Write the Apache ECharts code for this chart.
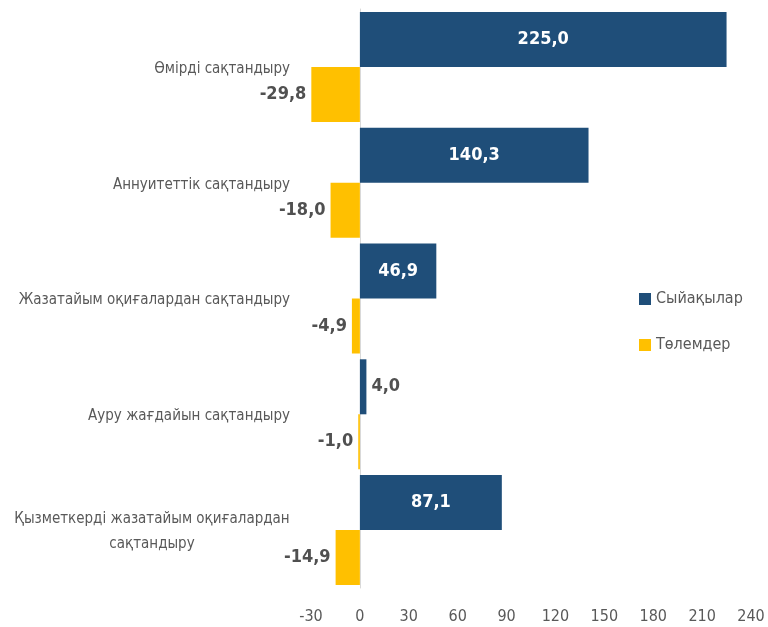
<!DOCTYPE html>
<html>
<head>
<meta charset="utf-8">
<script src="https://cdn.jsdelivr.net/npm/echarts@6/dist/echarts.min.js"></script>
<style>
  html, body { margin: 0; padding: 0; background: #fff; }
  #chart { width: 768px; height: 627px; }
</style>
</head>
<body>
<div id="chart"></div>
<script>
const categories = [
  'Өмірді сақтандыру',
  'Аннуитеттік сақтандыру',
  'Жазатайым оқиғалардан сақтандыру',
  'Ауру жағдайын сақтандыру',
  'Қызметкерді жазатайым оқиғалардан\nсақтандыру'
]
const rewards = [225.0, 140.3, 46.9, 4.0, 87.1]      // Сыйақылар
const payments = [-29.8, -18.0, -4.9, -1.0, -14.9]   // Төлемдер
const seriesNames = ['Сыйақылар', 'Төлемдер']

const font = '"Liberation Sans Narrow", "DejaVu Sans Condensed", "Roboto", sans-serif'
const catSize = 15
const fmt = v => v.toFixed(1).replace('.', ',')

// ширина самой длинной строки, чтобы центрировать перенос
const ctx = document.createElement('canvas').getContext('2d')
ctx.font = catSize + 'px ' + font
const wrapWidth = Math.ceil(Math.max(...categories.filter(c => c.includes('\n'))
  .flatMap(c => c.split('\n')).map(s => ctx.measureText(s).width)))

const chart = echarts.init(document.getElementById('chart'))

chart.setOption({
  animation: false,
  textStyle: { fontFamily: font },
  legend: {
    data: seriesNames,
    orient: 'vertical',
    left: 634,
    top: 286,
    itemWidth: 12,
    itemHeight: 12,
    itemGap: 30,
    icon: 'rect',
    itemStyle: { borderWidth: 0 },
    textStyle: { fontFamily: font, fontSize: 16, color: '#595959' }
  },
  grid: { left: 311, right: 17, top: 9, bottom: 39, outerBoundsMode: 'none', containLabel: false },
  xAxis: {
    type: 'value',
    min: -30,
    max: 240,
    interval: 30,
    splitLine: { show: false },
    axisLine: { show: false },
    axisTick: { show: false },
    axisLabel: { fontFamily: font, fontSize: 16, color: '#595959', margin: 21 }
  },
  yAxis: {
    type: 'category',
    inverse: true,
    data: categories,
    axisLine: { show: true, onZero: true, lineStyle: { color: '#d9d9d9', width: 1 } },
    axisTick: { show: false },
    axisLabel: {
      fontFamily: font,
      fontSize: catSize,
      color: '#595959',
      margin: 21,
      lineHeight: 20,
      padding: [4, 0, 0, 0],
      formatter: v => v.indexOf('\n') >= 0 ? '{c|' + v + '}' : v,
      rich: { c: { width: wrapWidth, align: 'center', fontFamily: font, fontSize: catSize, color: '#595959', lineHeight: 25 } }
    }
  },
  series: [
    {
      name: seriesNames[0],
      type: 'bar',
      data: rewards.map(v => v < 10
        ? { value: v, label: { position: 'right', color: '#505050' } }
        : v),
      barGap: '0%',
      barCategoryGap: '5%',
      itemStyle: { color: '#1f4e79' },
      label: {
        show: true,
        position: 'inside',
        color: '#ffffff',
        fontFamily: font,
        fontWeight: 'bold',
        fontSize: 18,
        distance: 5,
        formatter: p => fmt(p.value)
      }
    },
    {
      name: seriesNames[1],
      type: 'bar',
      data: payments,
      barGap: '0%',
      barCategoryGap: '5%',
      itemStyle: { color: '#ffc000' },
      label: {
        show: true,
        position: 'left',
        distance: 5,
        color: '#505050',
        fontFamily: font,
        fontWeight: 'bold',
        fontSize: 18,
        formatter: p => fmt(p.value)
      }
    }
  ]
})
</script>
</body>
</html>
